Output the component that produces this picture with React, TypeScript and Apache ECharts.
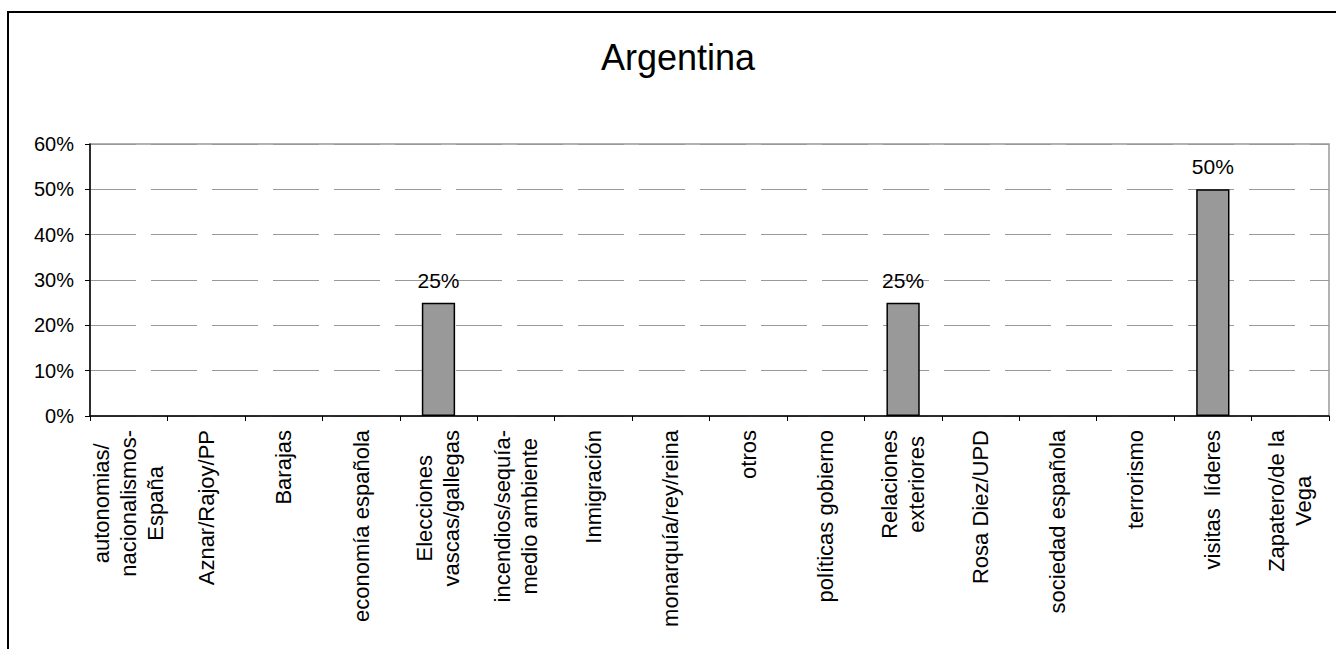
import React, { useEffect, useRef } from "react";
import * as echarts from "echarts";

const titleText = "Argentina";
const categories = [
  "autonomias/\nnacionalismos-\nEspaña",
  "Aznar/Rajoy/PP",
  "Barajas",
  "economía española",
  "Elecciones\nvascas/gallegas",
  "incendios/sequía-\nmedio ambiente",
  "Inmigración",
  "monarquía/rey/reina",
  "otros",
  "políticas gobierno",
  "Relaciones\nexteriores",
  "Rosa Diez/UPD",
  "sociedad española",
  "terrorismo",
  "visitas  líderes",
  "Zapatero/de la\nVega",
];
const values = [0, 0, 0, 0, 0.25, 0, 0, 0, 0, 0, 0.25, 0, 0, 0, 0.5, 0];
const yMin = 0;
const yMax = 0.6;
const yStep = 0.1;

const FONT = "'Liberation Sans', Arial, sans-serif";

export default function App() {
  const ref = useRef<HTMLDivElement>(null);
  useEffect(() => {
    if (!ref.current) return;
    const chart = echarts.init(ref.current, undefined, { renderer: "svg" });
    chart.setOption({
      animation: false,
      backgroundColor: "#ffffff",
      textStyle: { fontFamily: FONT },
      title: {
        text: titleText,
        left: 673,
        textAlign: "center",
        top: 34,
        textStyle: { fontFamily: FONT, fontSize: 36, fontWeight: "normal", color: "#000" },
      },
      graphic: [
        {
          type: "rect",
          shape: { x: 8, y: 12, width: 1340, height: 660 },
          style: { fill: "none", stroke: "#000", lineWidth: 2 },
          silent: true,
          z: -1,
        },
      ],
      grid: {
        left: 90,
        top: 144,
        right: 7,
        bottom: 233,
        show: true,
        borderColor: "#999",
        borderWidth: 1.5,
        containLabel: false,
      },
      xAxis: {
        type: "category",
        data: categories,
        boundaryGap: true,
        axisLine: { show: true, lineStyle: { color: "#000", width: 1.5 } },
        axisTick: { show: true, length: 5, alignWithLabel: false, lineStyle: { color: "#000", width: 1 } },
        axisLabel: {
          interval: 0,
          rotate: 90,
          margin: 14,
          fontFamily: FONT,
          fontSize: 22,
          lineHeight: 27,
          color: "#000",
          formatter: (v: string) =>
            v
              .split("\n")
              .map((l) => "{c|" + l + "}")
              .join("\n"),
          rich: {
            c: { align: "center", fontFamily: FONT, fontSize: 22, lineHeight: 27, color: "#000" },
          },
        },
        splitLine: { show: false },
      },
      yAxis: {
        type: "value",
        min: yMin,
        max: yMax,
        interval: yStep,
        axisLine: { show: true, lineStyle: { color: "#000", width: 1.5 } },
        axisTick: { show: true, length: 5, lineStyle: { color: "#000", width: 1 } },
        axisLabel: {
          margin: 16,
          fontFamily: FONT,
          fontSize: 20,
          color: "#000",
          formatter: (v: number) => Math.round(v * 100) + "%",
        },
        splitLine: {
          show: true,
          lineStyle: { color: "#999", width: 1, type: [46, 15] },
        },
      },
      series: [
        {
          type: "bar",
          data: values.map((v) => ({
            value: v,
            itemStyle: { borderWidth: v ? 1.5 : 0 },
          })),
          barWidth: "43%",
          itemStyle: { color: "#999999", borderColor: "#000", borderWidth: 1.5 },
          label: {
            show: true,
            position: "top",
            distance: 12,
            fontFamily: FONT,
            fontSize: 21,
            color: "#000",
            formatter: (p: any) => (p.value ? Math.round(p.value * 100) + "%" : ""),
          },
        },
      ],
    });
    return () => chart.dispose();
  }, []);
  return (
    <div
      ref={ref}
      style={{ position: "fixed", left: 0, top: 0, width: 1336, height: 649, background: "#fff" }}
    />
  );
}
